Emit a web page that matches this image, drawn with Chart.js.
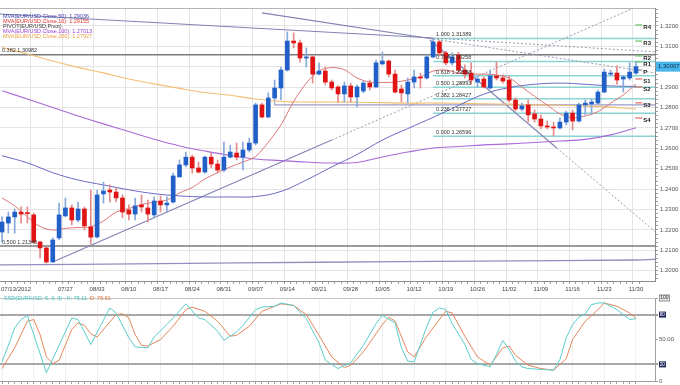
<!DOCTYPE html>
<html>
<head>
<meta charset="utf-8">
<script src="https://cdn.jsdelivr.net/npm/chart.js@4.4.1/dist/chart.umd.min.js"></script>
<style>
  html, body { margin: 0; padding: 0; background: #fff; }
  #wrap { position: relative; width: 680px; height: 385px; overflow: hidden; }
  #main { position: absolute; left: 0; top: 0; }
  #stoch { position: absolute; left: 0; top: 292px; }
</style>
</head>
<body>
<div id="wrap">
  <canvas id="main" width="680" height="292"></canvas>
  <canvas id="stoch" width="680" height="93"></canvas>
</div>
<script>
// daily candles 07/13/2012 .. 11/30/2012 (index = trading day)
const opens  = [1.2190,1.2234,1.2264,1.2288,1.2283,1.2274,1.2141,1.2112,1.2043,1.2161,
                1.2269,1.2308,1.2249,1.2303,1.2215,1.2166,1.2377,1.2396,1.2386,1.2357,
                1.2298,1.2278,1.2323,1.2308,1.2274,1.2342,1.2323,1.2337,1.2460,1.2519,
                1.2557,1.2504,1.2484,1.2557,1.2523,1.2494,1.2557,1.2577,1.2557,1.2592,
                1.2626,1.2813,1.2754,1.2847,1.2896,1.2984,1.3126,1.3117,1.3043,1.3048,
                1.2964,1.2979,1.2925,1.2901,1.2867,1.2906,1.2852,1.2881,1.2920,1.2901,
                1.3014,1.3028,1.2964,1.2891,1.2867,1.2925,1.2950,1.2945,1.3048,1.3122,
                1.3068,1.3019,1.3058,1.2984,1.2969,1.2925,1.2940,1.2896,1.2955,1.2945,
                1.2935,1.2837,1.2793,1.2813,1.2769,1.2744,1.2710,1.2705,1.2700,1.2729,
                1.2773,1.2734,1.2813,1.2818,1.2822,1.2876,1.2964,1.2969,1.2940,1.2945,
                1.2969];
const highs  = [1.2264,1.2288,1.2303,1.2313,1.2313,1.2283,1.2146,1.2117,1.2161,1.2332,
                1.2357,1.2323,1.2337,1.2313,1.2396,1.2396,1.2435,1.2421,1.2406,1.2372,
                1.2323,1.2357,1.2372,1.2347,1.2362,1.2367,1.2362,1.2479,1.2543,1.2582,
                1.2567,1.2533,1.2562,1.2577,1.2543,1.2631,1.2616,1.2626,1.2631,1.2651,
                1.2822,1.2822,1.2872,1.2935,1.2999,1.3171,1.3166,1.3131,1.3092,1.3053,
                1.3019,1.2999,1.2935,1.2906,1.2925,1.2920,1.2911,1.2930,1.2935,1.3033,
                1.3072,1.3033,1.2984,1.2911,1.2945,1.2984,1.2969,1.3058,1.3139,1.3131,
                1.3077,1.3068,1.3072,1.3009,1.3019,1.2955,1.2950,1.2984,1.3023,1.2960,
                1.2955,1.2847,1.2822,1.2837,1.2788,1.2764,1.2734,1.2729,1.2749,1.2783,
                1.2788,1.2822,1.2837,1.2842,1.2886,1.2989,1.2984,1.3004,1.2955,1.3019,
                1.3023];
const lows   = [1.2141,1.2185,1.2185,1.2234,1.2234,1.2136,1.2063,1.2038,1.2043,1.2151,
                1.2264,1.2225,1.2239,1.2200,1.2131,1.2161,1.2332,1.2337,1.2337,1.2259,
                1.2249,1.2249,1.2288,1.2239,1.2259,1.2288,1.2288,1.2332,1.2460,1.2509,
                1.2479,1.2479,1.2479,1.2504,1.2479,1.2484,1.2553,1.2543,1.2494,1.2582,
                1.2616,1.2749,1.2749,1.2837,1.2837,1.2979,1.3092,1.3023,1.2999,1.2920,
                1.2960,1.2911,1.2886,1.2827,1.2827,1.2827,1.2803,1.2872,1.2886,1.2896,
                1.3009,1.2950,1.2872,1.2827,1.2822,1.2896,1.2896,1.2940,1.3043,1.3053,
                1.3009,1.3009,1.2969,1.2945,1.2915,1.2901,1.2896,1.2891,1.2935,1.2920,
                1.2827,1.2783,1.2783,1.2729,1.2729,1.2695,1.2695,1.2661,1.2695,1.2715,
                1.2690,1.2729,1.2764,1.2769,1.2818,1.2872,1.2955,1.2915,1.2876,1.2935,
                1.2964];
const closes = [1.2239,1.2264,1.2288,1.2278,1.2280,1.2141,1.2112,1.2043,1.2151,1.2274,
                1.2308,1.2249,1.2303,1.2220,1.2165,1.2372,1.2391,1.2386,1.2357,1.2288,
                1.2278,1.2318,1.2313,1.2278,1.2342,1.2323,1.2332,1.2465,1.2519,1.2557,
                1.2504,1.2484,1.2557,1.2523,1.2494,1.2557,1.2582,1.2557,1.2592,1.2626,
                1.2813,1.2754,1.2847,1.2896,1.2984,1.3126,1.3117,1.3043,1.3048,1.2964,
                1.2979,1.2925,1.2896,1.2867,1.2906,1.2852,1.2901,1.2920,1.2901,1.3019,
                1.3028,1.2964,1.2876,1.2872,1.2925,1.2950,1.2945,1.3048,1.3122,1.3068,
                1.3019,1.3048,1.2984,1.2964,1.2935,1.2940,1.2901,1.2955,1.2945,1.2930,
                1.2837,1.2793,1.2808,1.2764,1.2744,1.2710,1.2705,1.2700,1.2729,1.2773,
                1.2734,1.2813,1.2822,1.2827,1.2876,1.2974,1.2969,1.2935,1.2950,1.2974,
                1.30007];

// week labels, one for every 5th trading day (Fridays)
const tickLabels = ['07/13/2012','','07/27','08/03','08/10','08/17','08/24','08/31','09/07','09/14',
                    '09/21','09/28','10/05','10/12','10/19','10/26','11/02','11/09','11/16','11/23','11/30'];

// moving averages
const maIdx  = [0,4,8,12,16,20,24,28,32,36,40,44,48,52,56,60,64,68,72,76,80,84,88,92,96,100];
const ma50   = [1.2564,1.2529,1.2481,1.2445,1.2421,1.2397,1.2378,1.2367,1.2362,1.2362,1.2364,1.2389,1.2445,
                1.2509,1.2570,1.2641,1.2697,1.2752,1.2810,1.2866,1.2898,1.2914,1.2920,1.2914,1.2906,1.29036];
const ma100  = [1.2882,1.2842,1.2800,1.2759,1.2720,1.2683,1.2645,1.2612,1.2587,1.2565,1.2548,1.2540,1.2533,
                1.2528,1.2531,1.2558,1.2582,1.2602,1.2609,1.2617,1.2622,1.2629,1.2636,1.2644,1.2666,1.27013];
const ma200  = [1.3094,1.3063,1.3028,1.2997,1.2970,1.2940,1.2916,1.2894,1.2874,1.2860,1.2842,1.2830,1.2827,
                1.2827,1.2826,1.2824,1.2822,1.2822,1.2821,1.2818,1.2817,1.2813,1.2811,1.2807,1.2802,1.27927];
const ma10 = [[0,1.2357],[2,1.2318],[4,1.2264],[6,1.2217],[8,1.2200],[10,1.2208],[12,1.2212],[14,1.2216],
              [16,1.2244],[18,1.2288],[20,1.2305],[22,1.2325],[24,1.2336],[26,1.2347],[28,1.2382],[30,1.2408],
              [32,1.2450],[34,1.2481],[36,1.2509],[38,1.2533],[40,1.2560],[42,1.2630],[44,1.2715],[46,1.2830],
              [48,1.2920],[50,1.2980],[52,1.2996],[54,1.2986],[56,1.2945],[58,1.2925],[60,1.2923],[62,1.2925],
              [64,1.2935],[66,1.2950],[68,1.2979],[70,1.2984],[72,1.2969],[74,1.2964],[76,1.2964],[78,1.2960],
              [80,1.2945],[82,1.2901],[84,1.2855],[86,1.2812],[88,1.2769],[90,1.2750],[92,1.2759],[94,1.2780],
              [96,1.2822],[98,1.2862],[100,1.29155]];
const longMa = [[-1,1.2029],[25,1.2035],[50,1.2042],[75,1.2047],[100,1.2053],[104,1.2058]];

// fibonacci retracement of the 10/17 high .. 11/13 low
const fibNames  = ['1.000','0.764','0.618','0.500','0.382','0.236','0.000'];
const fibLevels = [1.31389,1.30258,1.29558,1.28993,1.28427,1.27727,1.26596];
const fibStart  = 68;
const grayLabels = ['0.382 1.30982','0.500 1.21340'];
const grayLevels = [1.3059,1.2122];

// weekly pivots
const pivotNames  = ['R4','R3','R2','R1','P','S1','S2','S3','S4'];
const pivotLevels = [1.3205,1.3126,1.3053,1.3024,1.2984,1.2940,1.2901,1.2823,1.2749];
const pivotFrom = 99.9, pivotTo = 101.0;
const supportLine = [[43,1.2837],[43,1.2813],[104,1.2813]];

// trend lines [day, price]
const trendSolid  = [[[8,1.2043],[52,1.2641]], [[-1,1.3260],[68,1.3141]],
                     [[41,1.3264],[68,1.3136]], [[67.5,1.3131],[87.5,1.2602]]];
const trendDotted = [[[52,1.2641],[104,1.3347]], [[68,1.3141],[104,1.3071]],
                     [[68,1.3136],[104,1.2965]], [[87.5,1.2602],[104,1.2166]]];

// slow stochastic
const stochK = [[0,23],[1,43],[2,64],[3,74],[4,79],[7,10],[11,76],[12,74],[14,44],[17,88],[18,82],[20,52],
                [21,41],[23,40],[24,53],[26,68],[27,76],[29,93],[31,76],[32,74],[34,60],[35,49],[37,59],[38,67],
                [40,86],[41,89],[43,90],[44,94],[46,91],[48,75],[50,46],[51,25],[53,15],[55,22],[57,43],[59,69],
                [60,79],[62,70],[63,40],[64,24],[65,23],[66,44],[67,66],[68,83],[69,88],[70,86],[71,69],[73,44],
                [74,26],[75,21],[76,19],[77,17],[78,32],[79,49],[80,38],[81,24],[82,17],[83,15],[85,14],[87,13],
                [88,26],[89,52],[90,68],[91,77],[92,81],[93,92],[94,94],[95,94],[97,86],[99,74],[100,75.11]];
const stochD = [[0,15],[2,40],[4,72],[5,74],[6,56],[7,29],[8,21],[9,25],[11,62],[12,70],[13,67],[14,57],
                [15,53],[18,80],[19,81],[20,76],[21,56],[22,43],[23,42],[25,50],[27,66],[29,86],[30,89],[32,84],
                [34,72],[36,54],[37,55],[39,66],[41,84],[43,90],[44,93],[46,91],[48,80],[50,55],[52,29],[54,16],
                [55,19],[57,35],[60,68],[61,77],[62,72],[64,35],[65,29],[67,54],[70,84],[71,82],[73,54],[75,29],
                [77,19],[79,40],[80,42],[81,31],[83,19],[85,15],[87,13],[89,27],[90,50],[92,72],[94,86],[95,94],
                [97,90],[99,82],[100,75.61]];
const stochTicks  = [0,20,50,80,100];
const stochLabels = ['0','20','50.00','80','100'];

const FONT = "'Liberation Sans', Arial, sans-serif";
const X_MIN = -0.32, X_MAX = 103;
const AXIS_W = 25;
const days = opens.map((_, i) => i);
const last = arr => { const v = arr[arr.length - 1]; return Array.isArray(v) ? v[1] : v; };
const pts = (xs, ys) => xs.map((x, i) => ({x, y: ys[i]}));
const pairs = list => list.map(p => ({x: p[0], y: p[1]}));
const upDay = i => closes[i] >= opens[i];

function line(data, color, width, extra) {
  return Object.assign({type: 'line', data, borderColor: color, borderWidth: width,
    pointRadius: 0, fill: false, tension: 0, order: 5}, extra || {});
}

const datasets = [
  {type: 'bar', data: days.map(i => ({x: i, y: [opens[i], closes[i]]})),
   backgroundColor: c => upDay(c.dataIndex) ? '#2160c8' : '#e01414',
   barThickness: 4, minBarLength: 1, grouped: false, order: 0},
  {type: 'bar', data: days.map(i => ({x: i, y: [lows[i], highs[i]]})),
   backgroundColor: c => upDay(c.dataIndex) ? '#86a8dc' : '#e48a8a',
   barThickness: 1, grouped: false, order: 1},
  line(pairs(ma10), '#dc7676', 1, {tension: 0.3, order: 2}),
  line(pts(maIdx, ma50), '#6a6ac4', 1, {tension: 0.4, order: 2}),
  line(pts(maIdx, ma100), '#a86ad8', 1.1, {tension: 0.4, order: 2}),
  line(pts(maIdx, ma200), '#f2be72', 1.1, {tension: 0.4, order: 2}),
  line(pairs(longMa), '#9090c0', 1.3, {tension: 0.3, order: 3}),
  line(pairs(supportLine), '#9c9cc8', 1.1, {order: 3}),
];
trendSolid.forEach(t => datasets.push(line(pairs(t), '#8282b4', 1.1, {order: 3})));
trendDotted.forEach(t => datasets.push(line(pairs(t), '#9a9ab2', 1, {borderDash: [2, 2], order: 3})));
fibLevels.forEach(v => datasets.push(line([{x: fibStart, y: v}, {x: X_MAX + 1, y: v}], '#8ad4d4', 1.5)));
grayLevels.forEach(v => datasets.push(line([{x: X_MIN - 1, y: v}, {x: X_MAX + 1, y: v}], '#7a7a7a', 1.5)));
pivotLevels.forEach((v, i) => {
  const n = pivotNames[i];
  const col = n[0] === 'R' ? '#66c466' : n[0] === 'S' ? '#e06a6a' : '#9a9a9a';
  datasets.push(line([{x: pivotFrom, y: v}, {x: pivotTo, y: v}], col, 1.2, {order: 4}));
});

const legendTexts = [
  'MVA(EUR/USD.Close,50): ' + last(ma50).toFixed(5),
  'MVA(EUR/USD.Close,10): ' + last(ma10).toFixed(5),
  'PIVOT(EUR/USD,Pivot)',
  'MVA(EUR/USD.Close,100): ' + last(ma100).toFixed(5),
  'MVA(EUR/USD.Close,200): ' + last(ma200).toFixed(5)
];
const legendColors = ['#3a3aa6', '#e03030', '#404040', '#9a40d0', '#e8a040'];

const mainDecor = {
  id: 'mainDecor',
  afterDraw(chart) {
    const {ctx, chartArea: a, scales: {x, y}} = chart;
    ctx.save();
    ctx.strokeStyle = '#b4b4b4';
    ctx.lineWidth = 1;
    ctx.beginPath(); ctx.moveTo(a.left, a.top + 0.5); ctx.lineTo(a.right, a.top + 0.5); ctx.stroke();

    ctx.textAlign = 'left';
    ctx.textBaseline = 'middle';
    ctx.font = '5.5px ' + FONT;
    legendTexts.forEach((t, i) => { ctx.fillStyle = legendColors[i]; ctx.fillText(t, 3, 16 + i * 5.2); });

    ctx.fillStyle = '#333';
    ctx.textBaseline = 'bottom';
    fibLevels.forEach((v, i) =>
      ctx.fillText(fibNames[i] + ' ' + v.toFixed(5), x.getPixelForValue(fibStart) + 3, y.getPixelForValue(v) - 1));
    grayLevels.forEach((v, i) => ctx.fillText(grayLabels[i], 2, y.getPixelForValue(v) - 1));

    ctx.font = 'bold 6px ' + FONT;
    ctx.textBaseline = 'middle';
    ctx.fillStyle = '#222';
    pivotNames.forEach((n, i) => ctx.fillText(n, x.getPixelForValue(pivotTo) + 1, y.getPixelForValue(pivotLevels[i]) + 2));

    const lc = last(closes), py = y.getPixelForValue(lc);
    ctx.fillStyle = '#48b6ea';
    ctx.fillRect(a.right + 1, py - 5, AXIS_W, 10);
    ctx.fillStyle = '#10304e';
    ctx.font = '6px ' + FONT;
    ctx.fillText(lc.toFixed(5), a.right + 3, py);

    ctx.fillStyle = '#444';
    tickLabels.forEach((t, k) => {
      if (!t) return;
      ctx.textAlign = k === 0 ? 'left' : 'center';
      ctx.fillText(t, k === 0 ? 1 : x.getPixelForValue(k * 5), a.bottom + 8);
    });
    ctx.restore();
  }
};

const isMajor = v => Math.round(v * 500) % 5 === 0;

new Chart(document.getElementById('main'), {
  type: 'line',
  data: {datasets},
  options: {
    animation: false, responsive: false, events: [],
    layout: {padding: {top: 8, left: 0, right: 0, bottom: 0}},
    plugins: {legend: {display: false}, tooltip: {enabled: false}},
    scales: {
      x: {
        type: 'linear', min: X_MIN, max: X_MAX, offset: false,
        afterBuildTicks: ax => { ax.ticks = days.map(v => ({value: v})); },
        afterFit: ax => { ax.height = 11; ax.paddingLeft = 0; ax.paddingRight = 0; },
        ticks: {display: false},
        grid: {color: c => (c.tick && c.tick.value % 5 === 0) ? '#e4e4e4' : 'transparent',
               tickColor: '#a0a0a0', tickLength: 3},
        border: {color: '#8c8c8c'}
      },
      y: {
        position: 'right', min: 1.1950, max: 1.3288,
        afterBuildTicks: ax => {
          const t = [];
          for (let k = Math.ceil(ax.min * 500); k <= Math.floor(ax.max * 500); k++) t.push({value: k / 500});
          ax.ticks = t;
        },
        afterFit: ax => { ax.width = AXIS_W; ax.paddingTop = 0; ax.paddingBottom = 0; },
        ticks: {autoSkip: false, padding: 2, color: '#555', font: {family: FONT, size: 6},
                callback: v => isMajor(v) ? v.toFixed(4) : ''},
        grid: {color: c => (c.tick && isMajor(c.tick.value)) ? '#e4e4e4' : 'transparent',
               tickColor: '#a0a0a0', tickLength: 3},
        border: {color: '#8c8c8c'}
      }
    }
  },
  plugins: [mainDecor]
});

const stochDecor = {
  id: 'stochDecor',
  afterDraw(chart) {
    const {ctx, chartArea: a, scales: {y}} = chart;
    ctx.save();
    ctx.textBaseline = 'middle';
    ctx.textAlign = 'left';
    ctx.font = '5.5px ' + FONT;
    const kTxt = 'SSD(EUR/USD, 5, 3, 3) - K: ' + last(stochK).toFixed(2);
    ctx.fillStyle = '#46bcbc';
    ctx.fillText(kTxt, 4, a.top);
    ctx.fillStyle = '#e0703a';
    ctx.fillText('  D: ' + last(stochD).toFixed(2), 4 + ctx.measureText(kTxt).width, a.top);

    stochTicks.forEach((v, i) => {
      const py = y.getPixelForValue(v), tx = a.right + 4;
      if (v === 80 || v === 20) {
        ctx.fillStyle = '#232a5c';
        ctx.fillRect(tx, py - 3, 7, 6);
        ctx.fillStyle = '#fff';
        ctx.font = '4.5px ' + FONT;
        ctx.fillText(stochLabels[i], tx + 0.8, py);
      } else if (v === 100) {
        ctx.fillStyle = '#e6e6e6';
        ctx.fillRect(tx, py - 3.5, 11, 7);
        ctx.strokeStyle = '#999';
        ctx.strokeRect(tx + 0.5, py - 3, 10, 6);
        ctx.fillStyle = '#333';
        ctx.font = '5px ' + FONT;
        ctx.fillText(stochLabels[i], tx + 1.2, py);
      } else {
        ctx.fillStyle = '#555';
        ctx.font = '6px ' + FONT;
        ctx.fillText(stochLabels[i], tx, py);
      }
    });
    ctx.restore();
  }
};

new Chart(document.getElementById('stoch'), {
  type: 'line',
  data: {datasets: [
    line(pairs(stochK), '#5ccccc', 1, {order: 0}),
    line(pairs(stochD), '#e4875a', 1, {order: 1})
  ]},
  options: {
    animation: false, responsive: false, events: [],
    layout: {padding: {top: 6, left: 0, right: 0, bottom: 0}},
    plugins: {legend: {display: false}, tooltip: {enabled: false}},
    scales: {
      x: {
        type: 'linear', min: X_MIN, max: X_MAX, offset: false,
        afterBuildTicks: ax => { ax.ticks = days.map(v => ({value: v})); },
        afterFit: ax => { ax.height = 4; ax.paddingLeft = 0; ax.paddingRight = 0; },
        ticks: {display: false},
        grid: {color: c => (c.tick && c.tick.value % 5 === 0) ? '#f0f0f0' : 'transparent',
               tickColor: '#a0a0a0', tickLength: 3},
        border: {color: '#a0a0a0'}
      },
      y: {
        position: 'right', min: 0, max: 100,
        afterBuildTicks: ax => { ax.ticks = stochTicks.map(v => ({value: v})); },
        afterFit: ax => { ax.width = AXIS_W; ax.paddingTop = 0; ax.paddingBottom = 0; },
        ticks: {display: false},
        grid: {color: c => (c.tick && (c.tick.value === 80 || c.tick.value === 20)) ? '#a8a8a8'
                          : (c.tick && c.tick.value === 50) ? 'transparent' : '#c4c4c4',
               lineWidth: c => (c.tick && (c.tick.value === 80 || c.tick.value === 20)) ? 2 : 1,
               tickColor: '#a0a0a0', tickLength: 3},
        border: {color: '#a0a0a0'}
      }
    }
  },
  plugins: [stochDecor]
});
</script>
</body>
</html>
